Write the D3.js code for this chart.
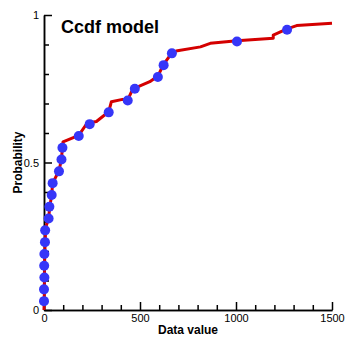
<!DOCTYPE html>
<html>
<head>
<meta charset="utf-8">
<script src="https://cdn.jsdelivr.net/npm/d3@7"></script>
<style>
  body { margin: 0; background: #fff; }
  text { font-family: Arial, "Liberation Sans", sans-serif; }
</style>
</head>
<body>
<div id="chart"></div>
<script>
var svgWidth = 346;
var svgHeight = 337;

var margin = { top: 15, right: 14, bottom: 27, left: 44 };
var width = svgWidth - margin.left - margin.right;
var height = svgHeight - margin.top - margin.bottom;

// sample points (data value, probability)
var pointValues = [0, 0, 2, 1, 2, 5, 6, 24, 28, 40, 45, 78, 91, 96, 181, 238, 337, 436, 473, 593, 623, 666, 1005, 1266];
var pointProbs = [0.03, 0.07, 0.11, 0.15, 0.19, 0.23, 0.27, 0.31, 0.35, 0.39, 0.43, 0.47, 0.51, 0.55, 0.59, 0.63, 0.67, 0.71, 0.75, 0.79, 0.83, 0.87, 0.91, 0.95];

// model curve (data value, probability)
var modelValues = [0, 1, 2, 2, 3, 4, 6, 9, 24, 30, 40, 45, 78, 91, 96, 99, 181, 224, 273, 337, 351, 409, 436, 456, 473, 551, 593, 623, 666, 695, 815, 866, 1005, 1194, 1194, 1266, 1316, 1500];
var modelProbs = [0, 0.03, 0.07, 0.11, 0.15, 0.19, 0.23, 0.28, 0.31, 0.35, 0.39, 0.43, 0.472, 0.511, 0.552, 0.57, 0.592, 0.633, 0.639, 0.672, 0.706, 0.714, 0.712, 0.74, 0.752, 0.774, 0.793, 0.833, 0.872, 0.879, 0.892, 0.904, 0.913, 0.921, 0.932, 0.953, 0.964, 0.972];

var xMajor = [0, 500, 1000, 1500];
var yMajor = [0, 0.5, 1];
var yLabels = ["0", "0.5", "1"];

var svg = d3.select("#chart")
  .append("svg")
  .attr("width", svgWidth)
  .attr("height", svgHeight);

var chartGroup = svg.append("g")
  .attr("transform", `translate(${margin.left}, ${margin.top})`);

var xScale = d3.scaleLinear().domain([0, 1500]).range([0, width]);
var yScale = d3.scaleLinear().domain([0, 1]).range([height, 0]);

// axes with ticks pointing into the plot
var xMinor = d3.range(0, 1501, 100).filter(v => v % 500 !== 0);
var yMinor = d3.range(0, 11).map(i => i / 10).filter(v => v !== 0 && v !== 0.5 && v !== 1);

var bottomAxis = d3.axisBottom(xScale).tickValues(xMajor).tickSizeInner(-8).tickSizeOuter(0).tickPadding(4)
  .tickFormat(d3.format("d"));
var bottomMinor = d3.axisBottom(xScale).tickValues(xMinor).tickSizeInner(-5).tickSizeOuter(0).tickFormat("");
var leftAxis = d3.axisLeft(yScale).tickValues(yMajor).tickSizeInner(-8).tickSizeOuter(0).tickPadding(5)
  .tickFormat((d, i) => yLabels[i]);
var leftMinor = d3.axisLeft(yScale).tickValues(yMinor).tickSizeInner(-5).tickSizeOuter(0).tickFormat("");

function styleAxis(g) {
  g.selectAll("path, line").attr("stroke", "#000").attr("stroke-width", 1.5);
  g.selectAll("text").attr("fill", "#000").style("font-size", "11px");
}

chartGroup.append("g").attr("transform", `translate(0, ${height})`).call(bottomMinor).call(styleAxis);
chartGroup.append("g").call(leftMinor).call(styleAxis);
chartGroup.append("g").attr("transform", `translate(0, ${height})`).call(bottomAxis).call(styleAxis);
chartGroup.append("g").call(leftAxis).call(styleAxis);

// model line
var line = d3.line()
  .x(d => xScale(d[0]))
  .y(d => yScale(d[1]));

chartGroup.append("path")
  .datum(d3.zip(modelValues, modelProbs))
  .attr("d", line)
  .attr("fill", "none")
  .attr("stroke", "#d40000")
  .attr("stroke-width", 3)
  .attr("stroke-linejoin", "round");

// sample points
chartGroup.selectAll("circle")
  .data(d3.zip(pointValues, pointProbs))
  .enter()
  .append("circle")
  .attr("cx", d => xScale(d[0]))
  .attr("cy", d => yScale(d[1]))
  .attr("r", 5)
  .attr("fill", "#3636f8");

// title
chartGroup.append("text")
  .attr("x", 17)
  .attr("y", 18)
  .attr("font-size", "18px")
  .attr("font-weight", "bold")
  .text("Ccdf model");

// axis labels
chartGroup.append("text")
  .attr("transform", "rotate(-90)")
  .attr("x", -height / 2)
  .attr("y", -22)
  .attr("text-anchor", "middle")
  .attr("font-size", "12px")
  .attr("font-weight", "bold")
  .text("Probability");

chartGroup.append("text")
  .attr("x", width / 2)
  .attr("y", height + 24)
  .attr("text-anchor", "middle")
  .attr("font-size", "12px")
  .attr("font-weight", "bold")
  .text("Data value");
</script>
</body>
</html>
